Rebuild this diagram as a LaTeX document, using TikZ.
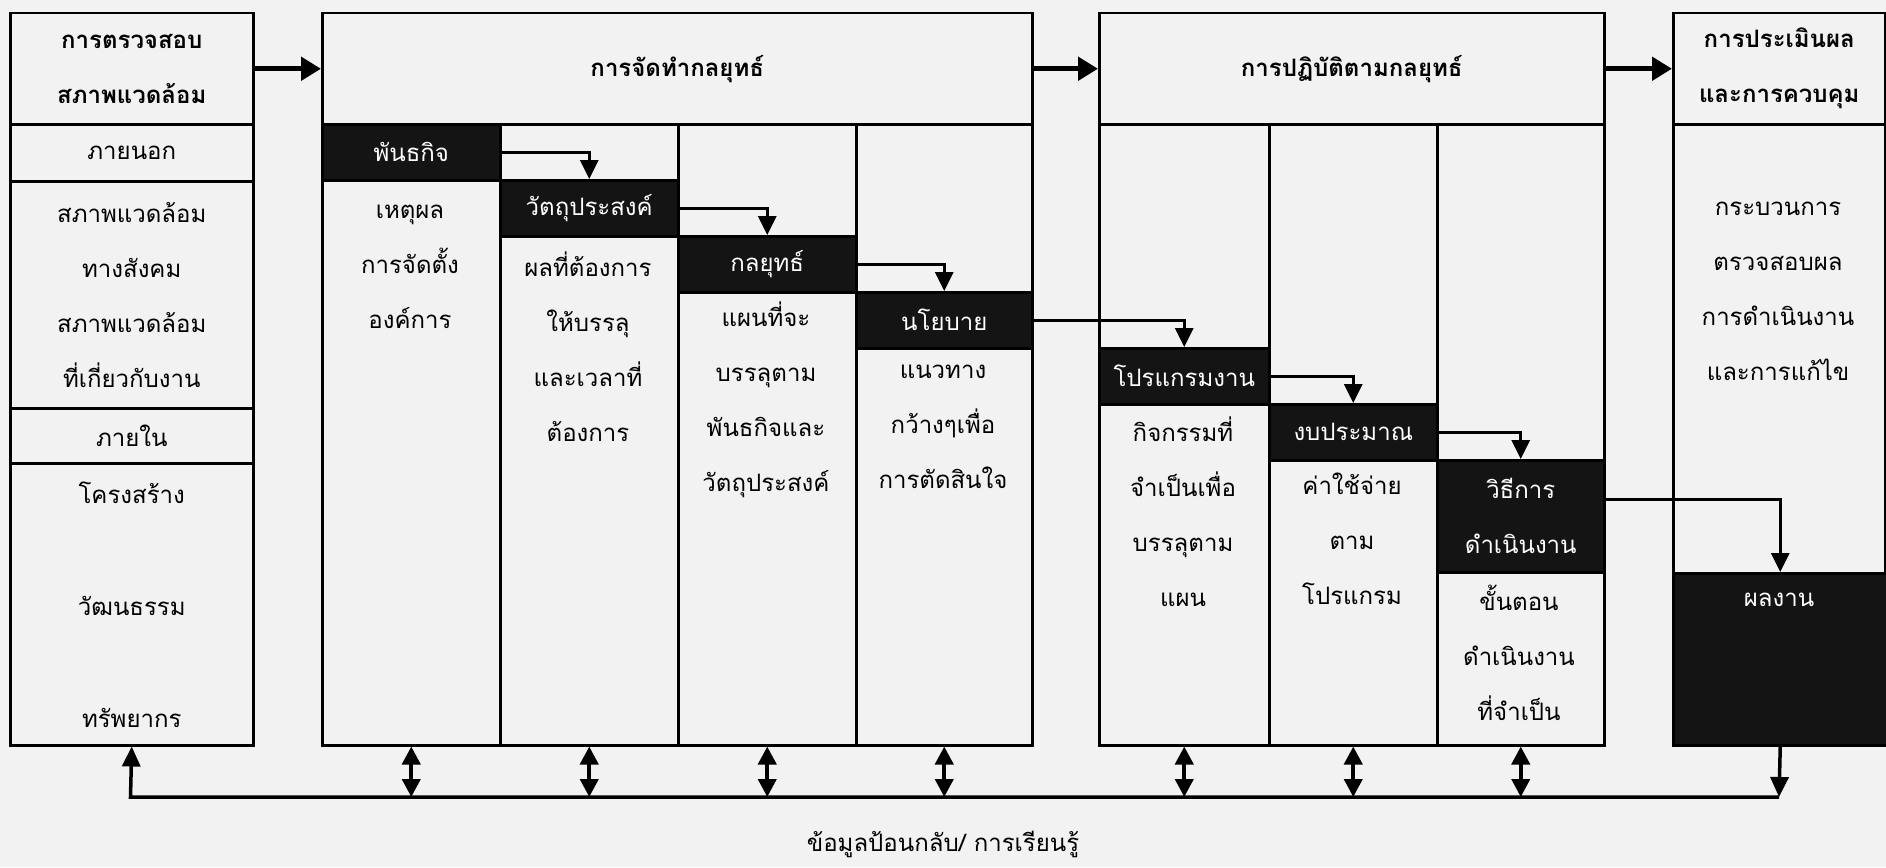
\documentclass[tikz,border=0pt]{standalone}
\usepackage{fontspec}
\setmainfont[Script=Thai]{Loma}
\usetikzlibrary{arrows.meta}

\begin{document}
\begin{tikzpicture}[x=1pt, y=-1pt, font=\fontsize{24}{55}\selectfont,
  box/.style={draw, line width=2.5pt, inner sep=0pt, anchor=north west, align=center},
  headbox/.style={box, font=\fontsize{24}{55}\selectfont\bfseries},
  blk/.style={box, fill=black!92, text=white},
  txt/.style={align=center, inner sep=0pt},
  bigarrow/.style={line width=5pt, -{Triangle[length=20pt, width=23pt]}},
  steparrow/.style={line width=3pt, -{Triangle[length=19pt, width=18pt]}},
  twoway/.style={line width=4pt, {Triangle[length=18pt, width=18pt]}-{Triangle[length=18pt, width=18pt]}},
  fbline/.style={line width=3.5pt, -{Triangle[length=20pt, width=18pt]}}]
  \useasboundingbox (0,0) rectangle (1886,867);
  \fill[black!5] (0,0) rectangle (1886,867);

  \node (envhead) [headbox, minimum width=243pt, minimum height=111pt] at (9,12) {การตรวจสอบ\\สภาพแวดล้อม};
  \node (envext) [box, minimum width=243pt, minimum height=57pt] at (9,123) {ภายนอก};
  \node (envextb) [box, minimum width=243pt, minimum height=227pt] at (9,180) {สภาพแวดล้อม\\ทางสังคม\\สภาพแวดล้อม\\ที่เกี่ยวกับงาน};
  \node (envint) [box, minimum width=243pt, minimum height=55pt] at (9,407) {ภายใน};
  \node (envintb) [box, minimum width=243pt, minimum height=282pt] at (9,462) {โครงสร้าง\\[57pt]วัฒนธรรม\\[57pt]ทรัพยากร};

  \node (formhead) [headbox, minimum width=710pt, minimum height=111pt] at (321,12) {การจัดทำกลยุทธ์};
  \node (fc1) [box, minimum width=178pt, minimum height=621pt] at (321,123) {};
  \node (fc2) [box, minimum width=178pt, minimum height=621pt] at (499,123) {};
  \node (fc3) [box, minimum width=178pt, minimum height=621pt] at (677,123) {};
  \node (fc4) [box, minimum width=176pt, minimum height=621pt] at (855,123) {};
  \node (mission) [blk, minimum width=178pt, minimum height=56pt] at (321,123) {พันธกิจ};
  \node (objective) [blk, minimum width=178pt, minimum height=56pt] at (499,179) {วัตถุประสงค์};
  \node (strategy) [blk, minimum width=178pt, minimum height=56pt] at (677,235) {กลยุทธ์};
  \node (policy) [blk, minimum width=176pt, minimum height=56pt] at (855,291) {นโยบาย};
  \node (missiont) [txt] at (410,267) {เหตุผล\\การจัดตั้ง\\องค์การ};
  \node (objectivet) [txt] at (588,347) {ผลที่ต้องการ\\ให้บรรลุ\\และเวลาที่\\ต้องการ};
  \node (strategyt) [txt] at (766,400) {แผนที่จะ\\บรรลุตาม\\พันธกิจและ\\วัตถุประสงค์};
  \node (policyt) [txt] at (943,427) {แนวทาง\\กว้างๆเพื่อ\\การตัดสินใจ};

  \node (implhead) [headbox, minimum width=505pt, minimum height=111pt] at (1098,12) {การปฏิบัติตามกลยุทธ์};
  \node (ic1) [box, minimum width=170pt, minimum height=621pt] at (1098,123) {};
  \node (ic2) [box, minimum width=168pt, minimum height=621pt] at (1268,123) {};
  \node (ic3) [box, minimum width=167pt, minimum height=621pt] at (1436,123) {};
  \node (program) [blk, minimum width=170pt, minimum height=56pt] at (1098,347) {โปรแกรมงาน};
  \node (budget) [blk, minimum width=168pt, minimum height=56pt] at (1268,403) {งบประมาณ};
  \node (procedure) [blk, minimum width=167pt, minimum height=112pt] at (1436,459) {วิธีการ\\ดำเนินงาน};
  \node (programt) [txt] at (1183,512) {กิจกรรมที่\\จำเป็นเพื่อ\\บรรลุตาม\\แผน};
  \node (budgett) [txt] at (1352,539) {ค่าใช้จ่าย\\ตาม\\โปรแกรม};
  \node (proceduret) [txt] at (1519,653) {ขั้นตอน\\ดำเนินงาน\\ที่จำเป็น};

  \node (evalhead) [headbox, minimum width=212pt, minimum height=111pt] at (1672,12) {การประเมินผล\\และการควบคุม};
  \node (evalbody) [box, minimum width=212pt, minimum height=621pt] at (1672,123) {};
  \node (evalt) [txt] at (1778,291) {กระบวนการ\\ตรวจสอบผล\\การดำเนินงาน\\และการแก้ไข};
  \node (result) [blk, minimum width=214pt, minimum height=172pt] at (1672,572) {};
  \node (resultt) [txt, text=white] at (1779,600) {ผลงาน};

  \coordinate (fbL) at (130.5,797);
  \coordinate (fbR) at (1779,797);
  \node (fbtxt) [txt] at (943,844) {ข้อมูลป้อนกลับ/ การเรียนรู้};

  \draw[bigarrow] (envhead.east) -- (formhead.west);
  \draw[bigarrow] (formhead.east) -- (implhead.west);
  \draw[bigarrow] (implhead.east) -- (evalhead.west);

  \draw[steparrow] (mission.east) -| (objective.north);
  \draw[steparrow] (objective.east) -| (strategy.north);
  \draw[steparrow] (strategy.east) -| (policy.north);
  \draw[steparrow] (policy.east) -| (program.north);
  \draw[steparrow] (program.east) -| (budget.north);
  \draw[steparrow] (budget.east) -| (procedure.north);
  \draw[steparrow] ([yshift=17pt]procedure.east) -| (result.north);

  \foreach \c in {fc1,fc2,fc3,fc4,ic1,ic2,ic3}
    \draw[twoway] (\c.south) -- (\c.south |- fbL);
  \draw[fbline] (result.south) -- (fbR);
  \draw[fbline] (fbR) -- (fbL) -- (envintb.south);
\end{tikzpicture}
\end{document}
